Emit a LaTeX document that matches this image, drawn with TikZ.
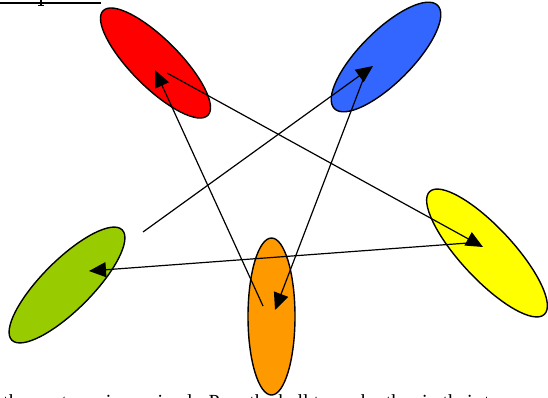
\documentclass[tikz,border=0pt]{standalone}
\usepackage{fontspec}
\setmainfont{Liberation Serif}
\usetikzlibrary{arrows.meta,shapes.geometric}
\definecolor{cred}{HTML}{FF0000}
\definecolor{cblue}{HTML}{3366FF}
\definecolor{cgreen}{HTML}{99CC00}
\definecolor{cyellow}{HTML}{FFFF00}
\definecolor{corange}{HTML}{FF9900}
\tikzset{
  blob/.style={ellipse, draw=black, line width=1.4pt, inner sep=0pt},
  link/.style={line width=1.2pt, -{Triangle[length=17pt,width=15pt]}},
}
\begin{document}
\begin{tikzpicture}[x=1pt,y=-1pt]
\useasboundingbox (0,0) rectangle (548,398);
\clip (0,0) rectangle (548,398);
% top-left underline remnant
\draw[line width=1.3pt] (0,3) -- (101,3);
\draw[line width=1.2pt] (41,0) -- (41,6);
\draw[line width=1pt] (38,6) -- (44,6);
% ellipses
\node[blob, fill=cred, rotate=-45, minimum width=148pt, minimum height=48pt] (red) at (155.5,63) {};
\node[blob, fill=cblue, rotate=45, minimum width=146pt, minimum height=52pt] (blue) at (386,57) {};
\node[blob, fill=cgreen, rotate=45, minimum width=156pt, minimum height=50pt] (green) at (67,285) {};
\node[blob, fill=cyellow, rotate=-47, minimum width=168pt, minimum height=52pt] (yellow) at (487,253) {};
\node[blob, fill=corange, minimum width=47pt, minimum height=157pt] (orange) at (271.5,316.5) {};
% arrow endpoints
\coordinate (gs) at (143,232);
\coordinate (bt) at (373,66);
\coordinate (os) at (263,306);
\coordinate (rt) at (155,70);
\coordinate (rs) at (167,73);
\coordinate (yt) at (483,247);
\coordinate (ys) at (468,243);
\coordinate (gt) at (89,271);
\coordinate (bs) at (366,72);
\coordinate (ot) at (275,310);
\draw[link] (gs) -- (bt);
\draw[link] (os) -- (rt);
\draw[link] (rs) -- (yt);
\draw[link] (ys) -- (gt);
\draw[link] (bs) -- (ot);
% bottom text, mostly cut off as in the reference
\node[anchor=base west, inner sep=0pt, font=\fontsize{20pt}{24pt}\selectfont] (txt) at (3,408) {the next one is received. \ Pass the ball to each other in their turn};
\end{tikzpicture}
\end{document}
